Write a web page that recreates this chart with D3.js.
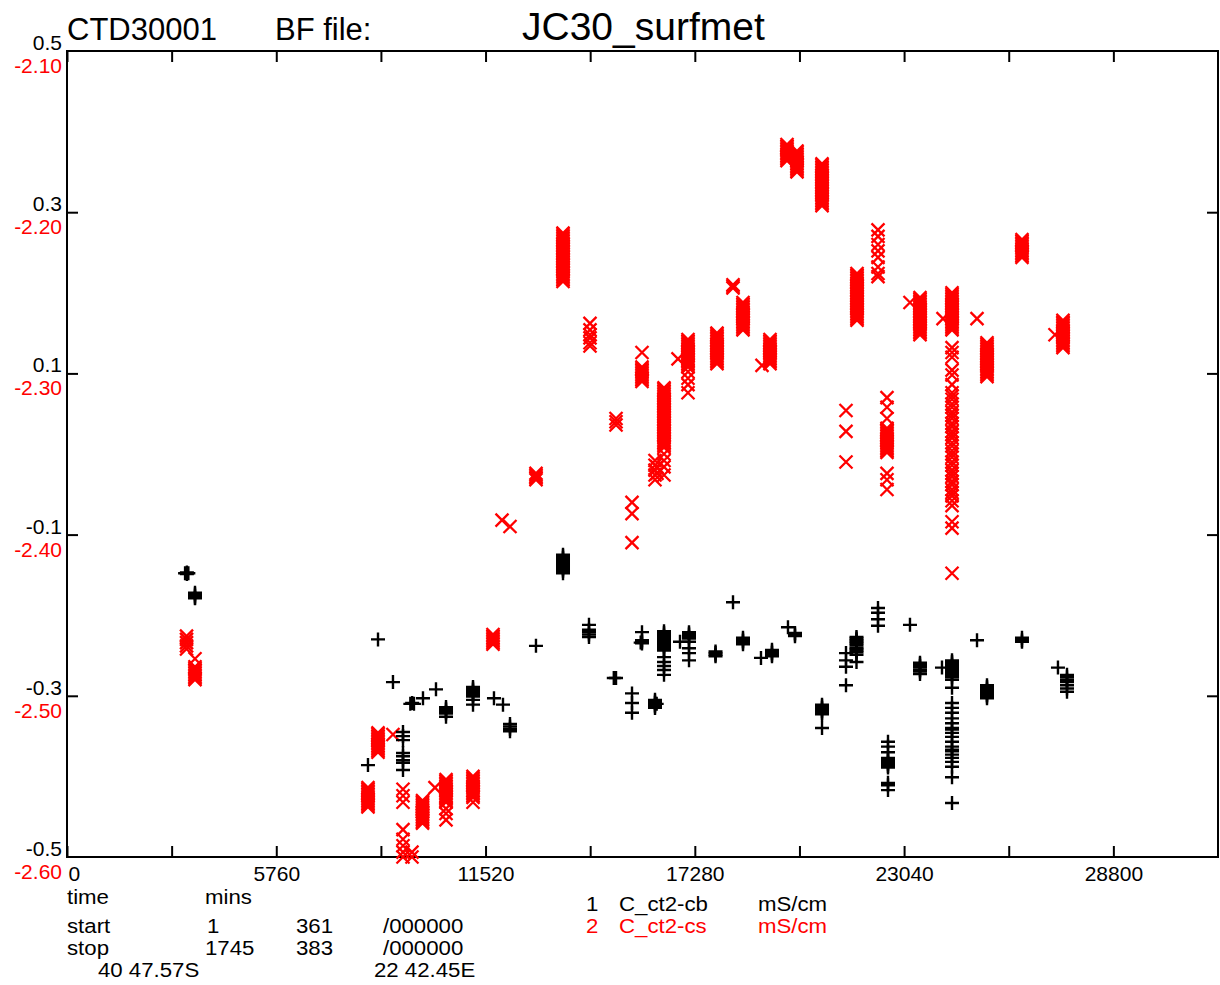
<!DOCTYPE html>
<html>
<head>
<meta charset="utf-8">
<script src="https://cdn.jsdelivr.net/npm/d3@7"></script>
<style>
  body { margin: 0; background: #fff; }
  text { font-family: "Liberation Sans", Arial, Helvetica, sans-serif; }
</style>
</head>
<body>
<svg id="chart" width="1220" height="985"></svg>
<script>
// time axis (mins)
const timeTicks = [0, 2880, 5760, 8640, 11520, 14400, 17280, 20160, 23040, 25920, 28800];
const timeLabels = [0, 5760, 11520, 17280, 23040, 28800];
const cbLabels = [0.5, 0.3, 0.1, -0.1, -0.3, -0.5];
const csLabels = [-2.10, -2.20, -2.30, -2.40, -2.50, -2.60];
const sideTicks = [0.3, 0.1, -0.1, -0.3];

// series 1: C_ct2-cb  [time, [values at that time]]
const cbGroups = [
  [3250, [-0.148]], [3300, [-0.147, -0.149]], [3340, [-0.148]],
  [3523, [-0.172, -0.174, -0.176, -0.178, -0.179]],
  [8284, [-0.386]],
  [8560, [-0.230]],
  [8972, [-0.283]],
  [9248, [-0.345, -0.350, -0.355, -0.371, -0.375, -0.380, -0.383, -0.392]],
  [9450, [-0.310]], [9500, [-0.309]], [9550, [-0.310]],
  [9798, [-0.303]],
  [10156, [-0.292]],
  [10432, [-0.314, -0.316, -0.318, -0.320, -0.322, -0.326]],
  [11175, [-0.289, -0.291, -0.293, -0.295, -0.297, -0.299, -0.301, -0.305, -0.311]],
  [11752, [-0.303]],
  [12000, [-0.311]],
  [12193, [-0.335, -0.338, -0.341, -0.344]],
  [12908, [-0.238]],
  [13652, [-0.125, -0.127, -0.129, -0.131, -0.133, -0.135, -0.137, -0.139, -0.141, -0.143, -0.145, -0.148]],
  [14367, [-0.212, -0.218, -0.221, -0.224, -0.227]],
  [15050, [-0.278]], [15111, [-0.278]],
  [15551, [-0.297, -0.309, -0.321]],
  [15826, [-0.221, -0.231, -0.233, -0.235]], [15790, [-0.234]],
  [16184, [-0.305, -0.307, -0.309, -0.311, -0.313, -0.315]], [16230, [-0.310]],
  [16432, [-0.220, -0.222, -0.224, -0.226, -0.228, -0.230, -0.232, -0.234, -0.236, -0.238, -0.240, -0.242, -0.244,
           -0.252, -0.258, -0.263, -0.268, -0.274]],
  [16872, [-0.233]],
  [17120, [-0.221, -0.223, -0.225, -0.227, -0.229, -0.233, -0.241, -0.247, -0.256]],
  [17850, [-0.245, -0.247, -0.249, -0.251]],
  [18331, [-0.184]],
  [18606, [-0.228, -0.230, -0.232, -0.234, -0.236]],
  [19101, [-0.253]],
  [19404, [-0.243, -0.245, -0.247, -0.249, -0.251]],
  [19844, [-0.215]],
  [20037, [-0.222, -0.224, -0.226]],
  [20781, [-0.311, -0.313, -0.315, -0.317, -0.319, -0.321, -0.323, -0.340]],
  [21441, [-0.247, -0.256, -0.264, -0.287]],
  [21730, [-0.227, -0.229, -0.231, -0.233, -0.235, -0.237, -0.240, -0.242, -0.244, -0.246, -0.249, -0.258]],
  [22322, [-0.191, -0.197, -0.205, -0.213]],
  [22597, [-0.357, -0.363, -0.370, -0.377, -0.379, -0.381, -0.383, -0.385, -0.387, -0.389, -0.408, -0.411, -0.417]],
  [23202, [-0.212]],
  [23478, [-0.259, -0.261, -0.263, -0.265, -0.268, -0.270, -0.273]],
  [24083, [-0.265]],
  [24359, [-0.256, -0.258, -0.260, -0.262, -0.264, -0.266, -0.268, -0.270, -0.272, -0.274, -0.277, -0.280, -0.290,
           -0.309, -0.315, -0.321, -0.328, -0.334, -0.340, -0.342, -0.346, -0.351, -0.357, -0.363, -0.367, -0.369,
           -0.373, -0.377, -0.382, -0.388, -0.401, -0.433]],
  [25047, [-0.231]],
  [25322, [-0.287, -0.289, -0.291, -0.293, -0.295, -0.297, -0.299, -0.301, -0.303]],
  [26285, [-0.228, -0.231, -0.233]],
  [27275, [-0.265]],
  [27524, [-0.274, -0.277, -0.280, -0.283, -0.287, -0.291, -0.295]]
];

// series 2: C_ct2-cs
const csGroups = [
  [3290, [-2.463, -2.465, -2.467, -2.469, -2.471]],
  [3523, [-2.477, -2.482, -2.483, -2.484, -2.485, -2.486, -2.487, -2.488, -2.489, -2.490]],
  [8284, [-2.557, -2.558, -2.559, -2.560, -2.561, -2.562, -2.563, -2.564, -2.565, -2.566, -2.567, -2.568, -2.569]],
  [8560, [-2.523, -2.524, -2.525, -2.526, -2.527, -2.528, -2.529, -2.530, -2.531, -2.532, -2.533, -2.534, -2.535]],
  [8972, [-2.524]],
  [9248, [-2.558, -2.562, -2.566, -2.583, -2.589, -2.593, -2.597, -2.600]],
  [9495, [-2.597, -2.600]],
  [9785, [-2.565, -2.566, -2.567, -2.568, -2.569, -2.570, -2.571, -2.572, -2.573, -2.574, -2.575, -2.576, -2.577,
          -2.578, -2.579]],
  [10128, [-2.557]],
  [10432, [-2.552, -2.553, -2.554, -2.555, -2.556, -2.557, -2.558, -2.559, -2.560, -2.561, -2.562, -2.563, -2.564,
           -2.565, -2.566, -2.570, -2.573, -2.577]],
  [11175, [-2.550, -2.551, -2.552, -2.553, -2.554, -2.555, -2.556, -2.557, -2.558, -2.559, -2.560, -2.561, -2.562,
           -2.563, -2.566]],
  [11725, [-2.462, -2.463, -2.464, -2.465, -2.466, -2.467, -2.468]],
  [11973, [-2.391]],
  [12193, [-2.395]],
  [12908, [-2.362, -2.363, -2.364, -2.365, -2.366]],
  [13652, [-2.213, -2.214, -2.215, -2.216, -2.217, -2.218, -2.219, -2.220, -2.221, -2.222, -2.223, -2.224, -2.225,
           -2.226, -2.227, -2.228, -2.229, -2.230, -2.231, -2.232, -2.233, -2.234, -2.235, -2.236, -2.237, -2.238,
           -2.239, -2.240, -2.241, -2.242, -2.243]],
  [14395, [-2.269, -2.273, -2.276, -2.278, -2.281, -2.283]],
  [15111, [-2.328, -2.330, -2.332]],
  [15551, [-2.380, -2.387, -2.405]],
  [15826, [-2.287, -2.296, -2.297, -2.298, -2.299, -2.300, -2.301, -2.302, -2.303, -2.304, -2.305]],
  [16184, [-2.354, -2.357, -2.360, -2.363, -2.366]], [16239, [-2.358, -2.362]],
  [16432, [-2.309, -2.310, -2.311, -2.312, -2.313, -2.314, -2.315, -2.316, -2.317, -2.318, -2.319, -2.320, -2.321,
           -2.322, -2.323, -2.324, -2.325, -2.326, -2.327, -2.328, -2.329, -2.330, -2.331, -2.332, -2.333, -2.334,
           -2.335, -2.336, -2.337, -2.338, -2.339, -2.340, -2.341, -2.342, -2.343, -2.344, -2.345, -2.346,
           -2.350, -2.354, -2.358, -2.363]],
  [16817, [-2.291]],
  [17092, [-2.279, -2.280, -2.281, -2.282, -2.283, -2.284, -2.285, -2.286, -2.287, -2.288, -2.289, -2.290, -2.291,
           -2.292, -2.293, -2.294, -2.295, -2.296, -2.299, -2.303, -2.307, -2.312]],
  [17890, [-2.275, -2.276, -2.277, -2.278, -2.279, -2.280, -2.281, -2.282, -2.283, -2.284, -2.285, -2.286, -2.287,
           -2.288, -2.289, -2.290, -2.291, -2.292, -2.293, -2.294]],
  [18331, [-2.245, -2.246, -2.247]],
  [18606, [-2.256, -2.257, -2.258, -2.259, -2.260, -2.261, -2.262, -2.263, -2.264, -2.265, -2.266, -2.267, -2.268,
           -2.269, -2.270, -2.271, -2.272, -2.273]],
  [19129, [-2.295]],
  [19349, [-2.279, -2.280, -2.281, -2.282, -2.283, -2.284, -2.285, -2.286, -2.287, -2.288, -2.289, -2.290, -2.291,
           -2.292, -2.293, -2.294]],
  [19817, [-2.158, -2.159, -2.160, -2.161, -2.162, -2.163, -2.164, -2.165, -2.166, -2.167, -2.168]],
  [20092, [-2.162, -2.163, -2.164, -2.165, -2.166, -2.167, -2.168, -2.169, -2.170, -2.171, -2.172, -2.173, -2.174,
           -2.175]],
  [20781, [-2.170, -2.171, -2.172, -2.173, -2.174, -2.175, -2.176, -2.177, -2.178, -2.179, -2.180, -2.181, -2.182,
           -2.183, -2.184, -2.185, -2.186, -2.187, -2.188, -2.189, -2.190, -2.191, -2.192, -2.193, -2.194, -2.195,
           -2.196]],
  [21441, [-2.323, -2.336, -2.355]],
  [21744, [-2.238, -2.239, -2.240, -2.241, -2.242, -2.243, -2.244, -2.245, -2.246, -2.247, -2.248, -2.249, -2.250,
           -2.251, -2.252, -2.253, -2.254, -2.255, -2.256, -2.257, -2.258, -2.259, -2.260, -2.261, -2.262, -2.263,
           -2.264, -2.265, -2.266, -2.267]],
  [22322, [-2.211, -2.215, -2.220, -2.224, -2.228, -2.234, -2.238, -2.240]],
  [22569, [-2.315, -2.321, -2.328, -2.334, -2.335, -2.336, -2.337, -2.338, -2.339, -2.340, -2.341, -2.342, -2.343,
           -2.344, -2.345, -2.346, -2.347, -2.348, -2.349, -2.362, -2.366, -2.372]],
  [23202, [-2.256]],
  [23478, [-2.253, -2.254, -2.255, -2.256, -2.257, -2.258, -2.259, -2.260, -2.261, -2.262, -2.263, -2.264, -2.265,
           -2.266, -2.267, -2.268, -2.269, -2.270, -2.271, -2.272, -2.273, -2.274, -2.275, -2.276]],
  [24111, [-2.266]],
  [24359, [-2.250, -2.251, -2.252, -2.253, -2.254, -2.255, -2.256, -2.257, -2.258, -2.259, -2.260, -2.261, -2.262,
           -2.263, -2.264, -2.265, -2.266, -2.267, -2.268, -2.269, -2.270, -2.271, -2.272, -2.273,
           -2.284, -2.287, -2.290, -2.298, -2.301, -2.307,
           -2.312, -2.314, -2.316, -2.319, -2.321, -2.324, -2.326, -2.328, -2.331, -2.333, -2.336, -2.338, -2.340,
           -2.343, -2.345, -2.348, -2.350, -2.352, -2.355, -2.357, -2.360, -2.362, -2.364, -2.367, -2.369, -2.372,
           -2.374, -2.376, -2.379, -2.382,
           -2.392, -2.396, -2.424]],
  [25047, [-2.266]],
  [25322, [-2.281, -2.282, -2.283, -2.284, -2.285, -2.286, -2.287, -2.288, -2.289, -2.290, -2.291, -2.292, -2.293,
           -2.294, -2.295, -2.296, -2.297, -2.298, -2.299, -2.300, -2.301, -2.302]],
  [26285, [-2.217, -2.218, -2.219, -2.220, -2.221, -2.222, -2.223, -2.224, -2.225, -2.226, -2.227, -2.228]],
  [27193, [-2.276]],
  [27413, [-2.267, -2.268, -2.269, -2.270, -2.271, -2.272, -2.273, -2.274, -2.275, -2.276, -2.277, -2.278, -2.279,
           -2.280, -2.281, -2.282, -2.283, -2.284]]
];

const headerTexts = [
  { text: 'CTD30001', x: 67, size: 31 },
  { text: 'BF file:', x: 275, size: 31 },
  { text: 'JC30_surfmet', x: 522, size: 39 }
];
const infoRows = [
  { y: 904, cells: [[67, 'time'], [205, 'mins']] },
  { y: 933, cells: [[67, 'start'], [207, '1'], [296, '361'], [383, '/000000']] },
  { y: 955, cells: [[67, 'stop'], [205, '1745'], [296, '383'], [383, '/000000']] },
  { y: 977, cells: [[98, '40 47.57S'], [374, '22 42.45E']] }
];
const legendRows = [
  { y: 911, color: 'black', cells: [[586, '1'], [619, 'C_ct2-cb'], [758, 'mS/cm']] },
  { y: 933, color: 'red', cells: [[586, '2'], [619, 'C_ct2-cs'], [758, 'mS/cm']] }
];

const svg = d3.select('#chart');
const plotLeft = 67, plotRight = 1218, plotTop = 51, plotBottom = 857;

const x = d3.scaleLinear().domain([0, 31680]).range([plotLeft, plotRight]);
const yCb = d3.scaleLinear().domain([-0.5, 0.5]).range([plotBottom, plotTop]);
const yCs = d3.scaleLinear().domain([-2.60, -2.10]).range([plotBottom, plotTop]);

// header
headerTexts.forEach(h => {
  svg.append('text').attr('x', h.x).attr('y', 40)
    .attr('font-size', h.size).attr('fill', 'black').text(h.text);
});

// ticks, pointing inward
const topAxis = svg.append('g').attr('transform', `translate(0,${plotTop})`)
  .call(d3.axisTop(x).tickValues(timeTicks).tickSize(-11).tickFormat(''));
const bottomAxis = svg.append('g').attr('transform', `translate(0,${plotBottom})`)
  .call(d3.axisBottom(x).tickValues(timeTicks).tickSize(-11).tickPadding(9)
    .tickFormat(d => timeLabels.includes(d) ? d : ''));
const leftAxis = svg.append('g').attr('transform', `translate(${plotLeft},0)`)
  .call(d3.axisLeft(yCb).tickValues(sideTicks).tickSize(-11).tickFormat(''));
const rightAxis = svg.append('g').attr('transform', `translate(${plotRight},0)`)
  .call(d3.axisRight(yCb).tickValues(sideTicks).tickSize(-11).tickFormat(''));

[topAxis, bottomAxis, leftAxis, rightAxis].forEach(g => {
  g.select('.domain').remove();
  g.selectAll('line').attr('stroke', 'black').attr('stroke-width', 2);
});
bottomAxis.selectAll('text')
  .attr('font-size', 21).attr('fill', 'black')
  .attr('font-family', '"Liberation Sans", Arial, sans-serif');
bottomAxis.selectAll('.tick').filter(d => d === 0).select('text')
  .attr('text-anchor', 'start').attr('x', 1);

// frame
svg.append('rect')
  .attr('x', plotLeft).attr('y', plotTop)
  .attr('width', plotRight - plotLeft).attr('height', plotBottom - plotTop)
  .attr('fill', 'none').attr('stroke', 'black').attr('stroke-width', 2);

// y labels, black for series 1 and red for series 2
svg.append('g').selectAll('text').data(cbLabels).join('text')
  .attr('x', 62).attr('y', d => yCb(d) - 1)
  .attr('text-anchor', 'end').attr('font-size', 21).attr('fill', 'black')
  .text(d => d.toFixed(1));
svg.append('g').selectAll('text').data(csLabels).join('text')
  .attr('x', 62).attr('y', d => yCs(d) + 22)
  .attr('text-anchor', 'end').attr('font-size', 21).attr('fill', 'red')
  .text(d => d.toFixed(2));

// markers
const plusPath = 'M-7,0H7M0,-7V7';
const crossPath = 'M-6.5,-6.5L6.5,6.5M-6.5,6.5L6.5,-6.5';

const flatten = groups => groups.flatMap(([t, vals]) => vals.map(v => ({ t, v })));

svg.append('g').selectAll('path').data(flatten(csGroups)).join('path')
  .attr('transform', d => `translate(${x(d.t)},${yCs(d.v)})`)
  .attr('d', crossPath)
  .attr('fill', 'none').attr('stroke', 'red').attr('stroke-width', 2.3);

svg.append('g').selectAll('path').data(flatten(cbGroups)).join('path')
  .attr('transform', d => `translate(${x(d.t)},${yCb(d.v)})`)
  .attr('d', plusPath)
  .attr('fill', 'none').attr('stroke', 'black').attr('stroke-width', 2.4);

// footer info: glyphs are a bit wider than tall in the original, so stretch
const footerText = (cx, cy, txt, color) => {
  svg.append('text')
    .attr('transform', `translate(${cx},${cy}) scale(1.14,1)`)
    .attr('font-size', 19.5).attr('fill', color).text(txt);
};
infoRows.forEach(row => row.cells.forEach(([cx, txt]) => footerText(cx, row.y, txt, 'black')));
legendRows.forEach(row => row.cells.forEach(([cx, txt]) => footerText(cx, row.y, txt, row.color)));
</script>
</body>
</html>
